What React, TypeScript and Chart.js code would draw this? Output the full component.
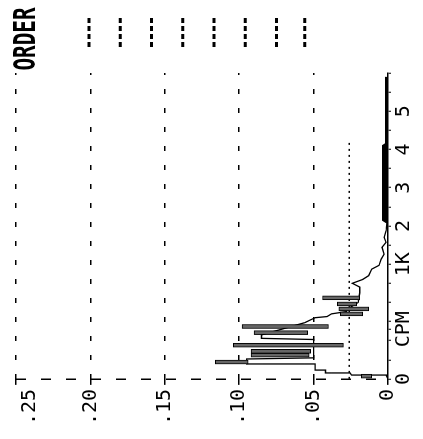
import React, { useEffect, useRef } from 'react';
import { Chart, registerables } from 'chart.js';

Chart.register(...registerables);

// ---- data (chart drawn in its upright orientation, then the page shows it turned 90° CCW) ----
const valueMax = 0.25;
const valueStep = 0.05;
const cpmMax = 8;
const cpmMinorTicks = [0, 0.5, 1, 1.3, 1.5, 2, 2.5, 3, 3.5, 4, 4.5, 5, 5.5, 6, 6.5, 7, 7.5, 8];
const cpmLabelPositions = [0, 1.3, 3, 4, 5, 6, 7];
const cpmLabels = ['0', 'CPM', '1K', '2', '3', '4', '5'];

const envelopeCpm = [0, 0.08, 0.1, 0.155, 0.155, 0.23, 0.23, 0.39, 0.39, 0.52, 0.55, 1.03, 1.06, 1.15, 1.47, 1.6, 1.63, 1.7, 1.76, 1.83, 2.0, 2.25, 2.4, 2.5, 2.6, 2.7, 2.87, 2.97, 3.13, 3.26, 3.44, 3.57, 3.7, 3.88, 4.08];
const envelopeAmp = [0, 0.001, 0.0245, 0.0255, 0.042, 0.042, 0.049, 0.049, 0.095, 0.095, 0.05, 0.05, 0.085, 0.085, 0.056, 0.049, 0.041, 0.038, 0.028, 0.027, 0.02, 0.019, 0.019, 0.024, 0.017, 0.013, 0.011, 0.006, 0.0046, 0.0026, 0.004, 0.0013, 0.0026, 0.0013, 0.0007];

const barCpm = [0.07, 0.44, 0.62, 0.72, 0.88, 1.21, 1.37, 1.7, 1.83, 1.96, 2.12];
const barLow = [0.011, 0.094, 0.053, 0.052, 0.03, 0.054, 0.04, 0.017, 0.013, 0.021, 0.019];
const barHigh = [0.018, 0.116, 0.092, 0.092, 0.104, 0.09, 0.098, 0.032, 0.033, 0.034, 0.044];

const noiseCpm = [4.08, 4.15, 6.1, 6.15, 7.9];
const noiseAmp = [0.0007, 0.0035, 0.0035, 0.0015, 0.0015];

const limitAmp = 0.026;
const limitCpm = [0, 6.2];

const orderLevels = [0.201, 0.18, 0.159, 0.138, 0.117, 0.096, 0.075, 0.056];
const orderSpan = [8.68, 9.5];
const orderTitle = 'ORDER';

const FONT = '"DejaVu Sans Mono", monospace';

const fmtValue = (v: number) => {
  const n = Math.round(v * 100);
  return n === 0 ? '0' : '.' + String(n).padStart(2, '0');
};

const orderPlugin = {
  id: 'orderMarks',
  afterDraw(chart: any) {
    const { ctx, scales, chartArea } = chart;
    const x = scales.x;
    const y = scales.y;
    ctx.save();
    // top value label, printed a little inside the frame as in the printout
    ctx.fillStyle = '#000';
    ctx.font = '20px ' + FONT;
    ctx.textAlign = 'right';
    ctx.textBaseline = 'middle';
    ctx.fillText(fmtValue(valueMax), chartArea.left - 10, y.getPixelForValue(valueMax) + 14);

    ctx.strokeStyle = '#000';
    ctx.lineWidth = 3;
    ctx.setLineDash([5, 3]);
    orderLevels.forEach((v) => {
      const py = y.getPixelForValue(v);
      ctx.beginPath();
      ctx.moveTo(x.getPixelForValue(orderSpan[0]), py);
      ctx.lineTo(x.getPixelForValue(orderSpan[1]), py);
      ctx.stroke();
    });
    ctx.setLineDash([]);
    ctx.font = 'bold 21px ' + FONT;
    ctx.textAlign = 'center';
    ctx.textBaseline = 'middle';
    ctx.translate(chartArea.right + 34, chartArea.top + 11);
    ctx.scale(1, 1.45);
    ctx.fillText(orderTitle, 0, 0);
    ctx.restore();
  },
};

export default function App() {
  const ref = useRef<HTMLCanvasElement>(null);

  useEffect(() => {
    if (!ref.current) return;
    const chart = new Chart(ref.current, {
      type: 'bar',
      data: {
        datasets: [
          {
            type: 'line',
            data: noiseCpm.map((c, i) => ({ x: c, y: noiseAmp[i] })),
            borderColor: '#000',
            backgroundColor: '#000',
            borderWidth: 1.5,
            pointRadius: 0,
            fill: 'origin',
            order: 3,
          } as any,
          {
            type: 'line',
            data: limitCpm.map((c) => ({ x: c, y: limitAmp })),
            borderColor: '#000',
            borderWidth: 1.5,
            borderDash: [2, 4],
            pointRadius: 0,
            fill: false,
            order: 4,
          } as any,
          {
            type: 'line',
            data: envelopeCpm.map((c, i) => ({ x: c, y: envelopeAmp[i] })),
            borderColor: '#000',
            borderWidth: 1.3,
            pointRadius: 0,
            fill: false,
            tension: 0,
            order: 2,
          } as any,
          {
            type: 'bar',
            data: barCpm.map((c, i) => ({ x: c, y: [barLow[i], barHigh[i]] })),
            backgroundColor: '#666',
            borderColor: '#000',
            borderWidth: 1,
            borderSkipped: false,
            barThickness: 4,
            grouped: false,
            order: 1,
          } as any,
        ],
      },
      options: {
        animation: false,
        responsive: false,
        events: [],
        layout: { padding: { left: 10, right: 73, top: 0, bottom: 6 } },
        plugins: { legend: { display: false }, tooltip: { enabled: false } },
        scales: {
          x: {
            type: 'linear',
            offset: false,
            min: 0,
            max: cpmMax,
            afterBuildTicks: (scale: any) => {
              scale.ticks = cpmMinorTicks.map((v) => ({ value: v }));
            },
            ticks: {
              autoSkip: false,
              maxRotation: 0,
              minRotation: 0,
              padding: 1,
              color: '#000',
              font: { family: FONT, size: 20 },
              callback: (v: any) => {
                const i = cpmLabelPositions.findIndex((p) => Math.abs(p - Number(v)) < 1e-6);
                return i >= 0 ? cpmLabels[i] : '';
              },
            },
            grid: {
              offset: false,
              drawOnChartArea: true,
              color: (ctx: any) => (ctx.tick && ctx.tick.value === 0 ? '#000' : 'rgba(0,0,0,0)'),
              lineWidth: 1.5,
              tickColor: '#000',
              tickLength: 3,
              tickWidth: 1,
              tickBorderDash: [],
            },
            border: { display: true, color: '#000', width: 1.5, dash: [10, 15] },
          },
          y: {
            type: 'linear',
            min: 0,
            max: valueMax,
            ticks: {
              stepSize: valueStep,
              padding: 4,
              color: '#000',
              font: { family: FONT, size: 20 },
              callback: (v: any) => {
                const n = Number(v);
                return Math.abs(n - valueMax) < 1e-9 ? '' : fmtValue(n);
              },
            },
            grid: {
              color: (ctx: any) => (ctx.tick && ctx.tick.value === 0 ? 'rgba(0,0,0,0)' : '#000'),
              lineWidth: 1.5,
              tickColor: '#000',
              tickLength: 6,
              tickWidth: 1.5,
              tickBorderDash: [],
            },
            border: { display: false, dash: [5, 14] },
          },
        },
      },
      plugins: [orderPlugin],
    });
    return () => chart.destroy();
  }, []);

  return (
    <div
      style={{
        position: 'fixed',
        left: -8,
        top: 8,
        width: 439,
        height: 423,
        transform: 'rotate(-90deg)',
        transformOrigin: '50% 50%',
        background: '#fff',
      }}
    >
      <canvas ref={ref} width={439} height={423} style={{ width: 439, height: 423 }} />
    </div>
  );
}
